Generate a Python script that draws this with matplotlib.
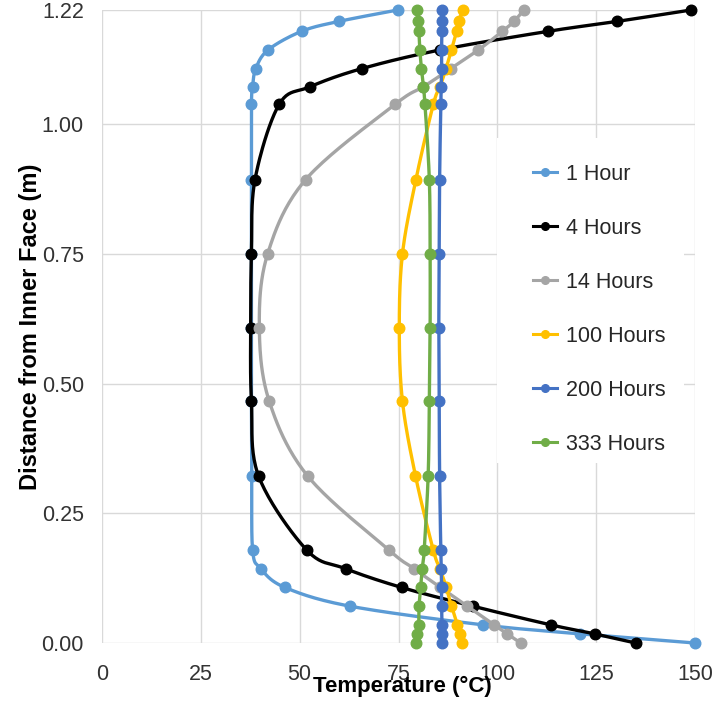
import numpy as np
import matplotlib
matplotlib.use("Agg")
import matplotlib.pyplot as plt
from matplotlib.patches import Rectangle

# ---------------- data ----------------
depth = [0.0, 0.0175, 0.035, 0.071, 0.107, 0.143, 0.179, 0.322, 0.466, 0.608,
         0.75, 0.893, 1.038, 1.072, 1.107, 1.143, 1.179, 1.198, 1.22]

t_1h = [150, 121, 96.3, 62.7, 46.3, 40.2, 38.1, 37.9, 37.8, 37.8,
        37.8, 37.8, 37.8, 38.1, 38.9, 42.0, 50.5, 59.9, 74.8]
t_4h = [135, 124.7, 113.5, 93.8, 75.8, 61.7, 51.8, 39.6, 37.8, 37.6,
        37.8, 38.7, 44.8, 52.6, 65.7, 85.5, 112.9, 130.3, 149]
t_14h = [105.9, 102.5, 99.2, 92.4, 85.6, 79.0, 72.6, 52.0, 42.3, 39.8,
         41.9, 51.5, 74.1, 81.3, 88.2, 95.2, 101.3, 104.2, 106.7]
t_100h = [91.1, 90.5, 89.9, 88.4, 87.1, 85.5, 83.8, 79.3, 76.0, 75.2,
          76.0, 79.4, 83.8, 85.5, 87.0, 88.4, 89.7, 90.3, 91.2]
t_200h = [86.0, 86.0, 86.0, 85.9, 85.9, 85.8, 85.7, 85.4, 85.3, 85.2,
          85.3, 85.4, 85.7, 85.8, 85.9, 85.9, 86.0, 86.0, 86.0]
t_333h = [79.5, 79.7, 80.1, 80.2, 80.6, 81.0, 81.5, 82.5, 82.8, 83.0,
          83.0, 82.8, 81.7, 81.3, 80.8, 80.4, 80.2, 80.0, 79.7]

series_labels = ["1 Hour", "4 Hours", "14 Hours", "100 Hours", "200 Hours", "333 Hours"]
series_values = [t_1h, t_4h, t_14h, t_100h, t_200h, t_333h]
series_colors = ["#5B9BD5", "#000000", "#A5A5A5", "#FFC000", "#4472C4", "#70AD47"]

x_ticks = [0, 25, 50, 75, 100, 125, 150]
y_ticks = [0.0, 0.25, 0.50, 0.75, 1.00, 1.22]
y_ticklabels = ["0.00", "0.25", "0.50", "0.75", "1.00", "1.22"]

# ---------------- figure ----------------
W, H = 717, 703
fig = plt.figure(figsize=(W / 100, H / 100), dpi=100)
L, R, T, B = 102, 695, 10, 643
ax = fig.add_axes([L / W, 1 - B / H, (R - L) / W, (B - T) / H])
ax.set_xlim(0, 150)
ax.set_ylim(0, 1.22)

for s in ax.spines.values():
    s.set_visible(False)
ax.set_xticks(x_ticks)
ax.set_yticks(y_ticks)
ax.set_yticklabels(y_ticklabels)
ax.grid(True, color="#D9D9D9", linewidth=1.0)
ax.set_axisbelow(True)
ax.tick_params(length=0, labelsize=15.5, labelcolor="#333333")
ax.tick_params(axis="x", pad=15)
ax.tick_params(axis="y", pad=13)
for lab in ax.get_xticklabels() + ax.get_yticklabels():
    lab.set_family(["Liberation Sans", "DejaVu Sans"])

# white legend background (hides gridlines behind legend, as in reference)
ax.add_patch(Rectangle((497 / W, 1 - 463 / H), (684 - 497) / W, (463 - 138) / H,
                       transform=fig.transFigure, facecolor="white",
                       edgecolor="none", zorder=1))


def smooth(ax, x, y, n=24):
    pts = ax.transData.transform(np.column_stack([x, y]))
    P = np.vstack([pts[0], pts, pts[-1]])
    out = []
    tt = np.linspace(0, 1, n)[:, None]
    for i in range(1, len(P) - 2):
        p0, p1, p2, p3 = P[i - 1], P[i], P[i + 1], P[i + 2]
        c1 = p1 + (p2 - p0) / 6.0
        c2 = p2 - (p3 - p1) / 6.0
        seg = ((1 - tt) ** 3) * p1 + 3 * ((1 - tt) ** 2) * tt * c1 \
            + 3 * (1 - tt) * tt ** 2 * c2 + tt ** 3 * p2
        out.append(seg if i == 1 else seg[1:])
    return ax.transData.inverted().transform(np.vstack(out))


handles = []
for lab, vals, col in zip(series_labels, series_values, series_colors):
    curve = smooth(ax, vals, depth)
    ax.plot(curve[:, 0], curve[:, 1], color=col, lw=2.4, clip_on=False,
            solid_capstyle="round", zorder=2)
    ax.plot(vals, depth, "o", color=col, ms=7.6, clip_on=False, zorder=2)
    h, = ax.plot([], [], "-o", color=col, lw=2.2, ms=5.5, label=lab)
    handles.append(h)

leg = fig.legend(handles=handles, loc="upper left",
                 bbox_to_anchor=(533 / W, 1 - 164 / H),
                 frameon=False, borderpad=0, borderaxespad=0,
                 handlelength=1.1, handletextpad=0.45, labelspacing=1.53,
                 prop={"family": ["Liberation Sans", "DejaVu Sans"], "size": 15.5})
for t in leg.get_texts():
    t.set_color("#262626")

ax.set_xlabel("Temperature (°C)", family=["Liberation Sans", "DejaVu Sans"],
              weight="bold", size=16, color="#000000")
ax.set_ylabel("Distance from Inner Face (m)", family=["Liberation Sans", "DejaVu Sans"],
              weight="bold", size=17, color="#000000")
ax.xaxis.label.set_va("center")
ax.yaxis.label.set_va("center")
ax.yaxis.label.set_ha("center")
ax.xaxis.set_label_coords((402 - L) / (R - L), (B - 686) / (B - T))
ax.yaxis.set_label_coords((30 - L) / (R - L), 0.5)

fig.savefig("out.png", dpi=100)
